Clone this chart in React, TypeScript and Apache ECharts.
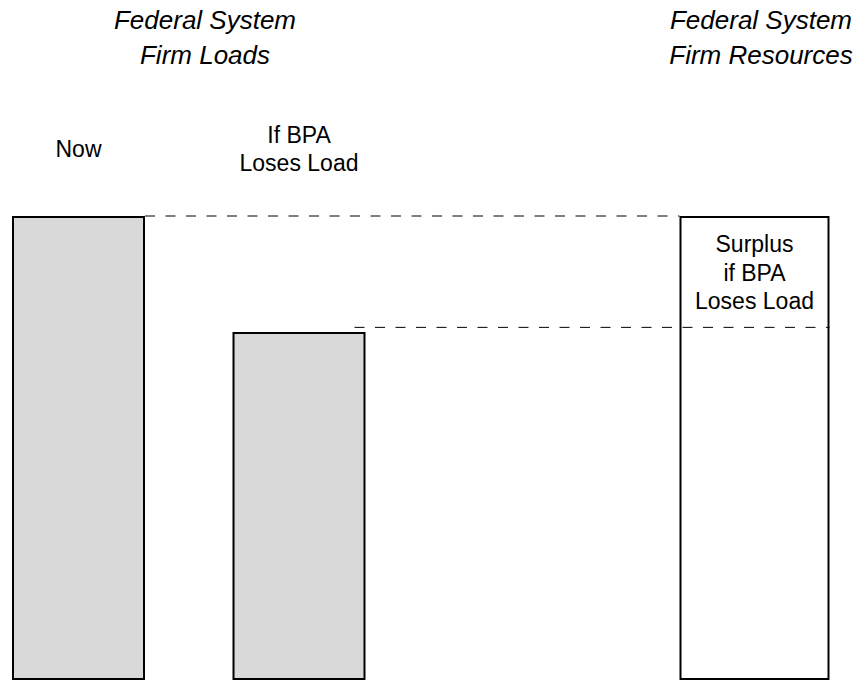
import React, { useEffect, useRef } from "react";
import * as echarts from "echarts";

// ---- data ----
const loadCategories = ["Now", "If BPA\nLoses Load"];
const loadValues = [100, 75];
const resourceCategories = ["Federal System Firm Resources"];
const resourceValues = [100];
const guideLevels = [100, 76]; // dashed reference levels
const surplusLabel = "Surplus\nif BPA\nLoses Load";
const loadsTitle = "Federal System\nFirm Loads";
const resourcesTitle = "Federal System\nFirm Resources";

const FONT = "'Liberation Sans', Arial, Helvetica, sans-serif";
const LOAD_BAR_W = 133;
const RES_BAR_W = 150;

export default function App() {
  const ref = useRef<HTMLDivElement>(null);
  useEffect(() => {
    if (!ref.current) return;
    const chart = echarts.init(ref.current, null, { renderer: "svg" });
    const titleStyle = {
      fontSize: 26,
      fontStyle: "italic",
      fontWeight: "normal",
      fontFamily: FONT,
      fill: "#000",
      lineHeight: 35,
      align: "center",
      verticalAlign: "top",
    };
    const option: any = {
      animation: false,
      backgroundColor: "#fff",
      grid: [
        { left: 78.5, width: 220.5, top: 216, bottom: 1, containLabel: false },
        { left: 679.5, width: 150, top: 216, bottom: 1, containLabel: false },
      ],
      xAxis: [
        {
          gridIndex: 0,
          type: "category",
          data: loadCategories,
          boundaryGap: false,
          position: "top",
          axisLine: { show: false },
          axisTick: { show: false },
          splitLine: { show: false },
          axisLabel: {
            show: true,
            interval: 0,
            margin: 67.5,
            verticalAlign: "middle",
            fontSize: 23,
            lineHeight: 28,
            color: "#000",
            fontFamily: FONT,
          },
        },
        {
          gridIndex: 1,
          type: "category",
          data: resourceCategories,
          show: false,
        },
      ],
      yAxis: [
        { gridIndex: 0, type: "value", min: 0, max: 100, show: false },
        { gridIndex: 1, type: "value", min: 0, max: 100, show: false },
      ],
      series: [
        {
          type: "bar",
          name: "Federal System Firm Loads",
          xAxisIndex: 0,
          yAxisIndex: 0,
          data: loadValues,
          barWidth: LOAD_BAR_W,
          clip: false,
          itemStyle: { color: "#d9d9d9", borderColor: "#000", borderWidth: 2 },
        },
        {
          type: "bar",
          name: "Federal System Firm Resources",
          xAxisIndex: 1,
          yAxisIndex: 1,
          data: resourceValues,
          barWidth: RES_BAR_W,
          clip: false,
          itemStyle: { color: "#fff", borderColor: "#000", borderWidth: 2 },
          label: {
            show: true,
            position: "insideTop",
            distance: 14,
            formatter: () => surplusLabel,
            fontSize: 23,
            lineHeight: 28.5,
            color: "#000",
            fontFamily: FONT,
          },
        },
      ],
    };
    chart.setOption(option);

    // dashed guide lines, positioned through the chart's own scales
    const a1 = chart.convertToPixel({ gridIndex: 0 }, [0, guideLevels[0]]) as number[];
    const a2 = chart.convertToPixel({ gridIndex: 0 }, [1, guideLevels[1]]) as number[];
    const r1 = chart.convertToPixel({ gridIndex: 1 }, [0, guideLevels[0]]) as number[];
    const r2 = chart.convertToPixel({ gridIndex: 1 }, [0, guideLevels[1]]) as number[];
    const dashStyle = { stroke: "#000", lineWidth: 1, lineDash: [10, 10.5] };
    chart.setOption({
      graphic: [
        {
          type: "line",
          shape: { x1: a1[0] + LOAD_BAR_W / 2, y1: a1[1], x2: r1[0] - RES_BAR_W / 2, y2: r1[1] },
          style: dashStyle,
          z: 10,
        },
        {
          type: "line",
          shape: { x1: a2[0] + LOAD_BAR_W / 2 - 11, y1: a2[1], x2: r2[0] + RES_BAR_W / 2, y2: r2[1] },
          style: dashStyle,
          z: 10,
        },
        {
          type: "text",
          x: 205,
          y: 2.5,
          style: { ...titleStyle, text: loadsTitle },
        },
        {
          type: "text",
          x: 761,
          y: 2.5,
          style: { ...titleStyle, text: resourcesTitle },
        },
      ],
    });
    return () => chart.dispose();
  }, []);
  return <div ref={ref} style={{ width: 864, height: 681, position: "absolute", left: 0, top: 0 }} />;
}
